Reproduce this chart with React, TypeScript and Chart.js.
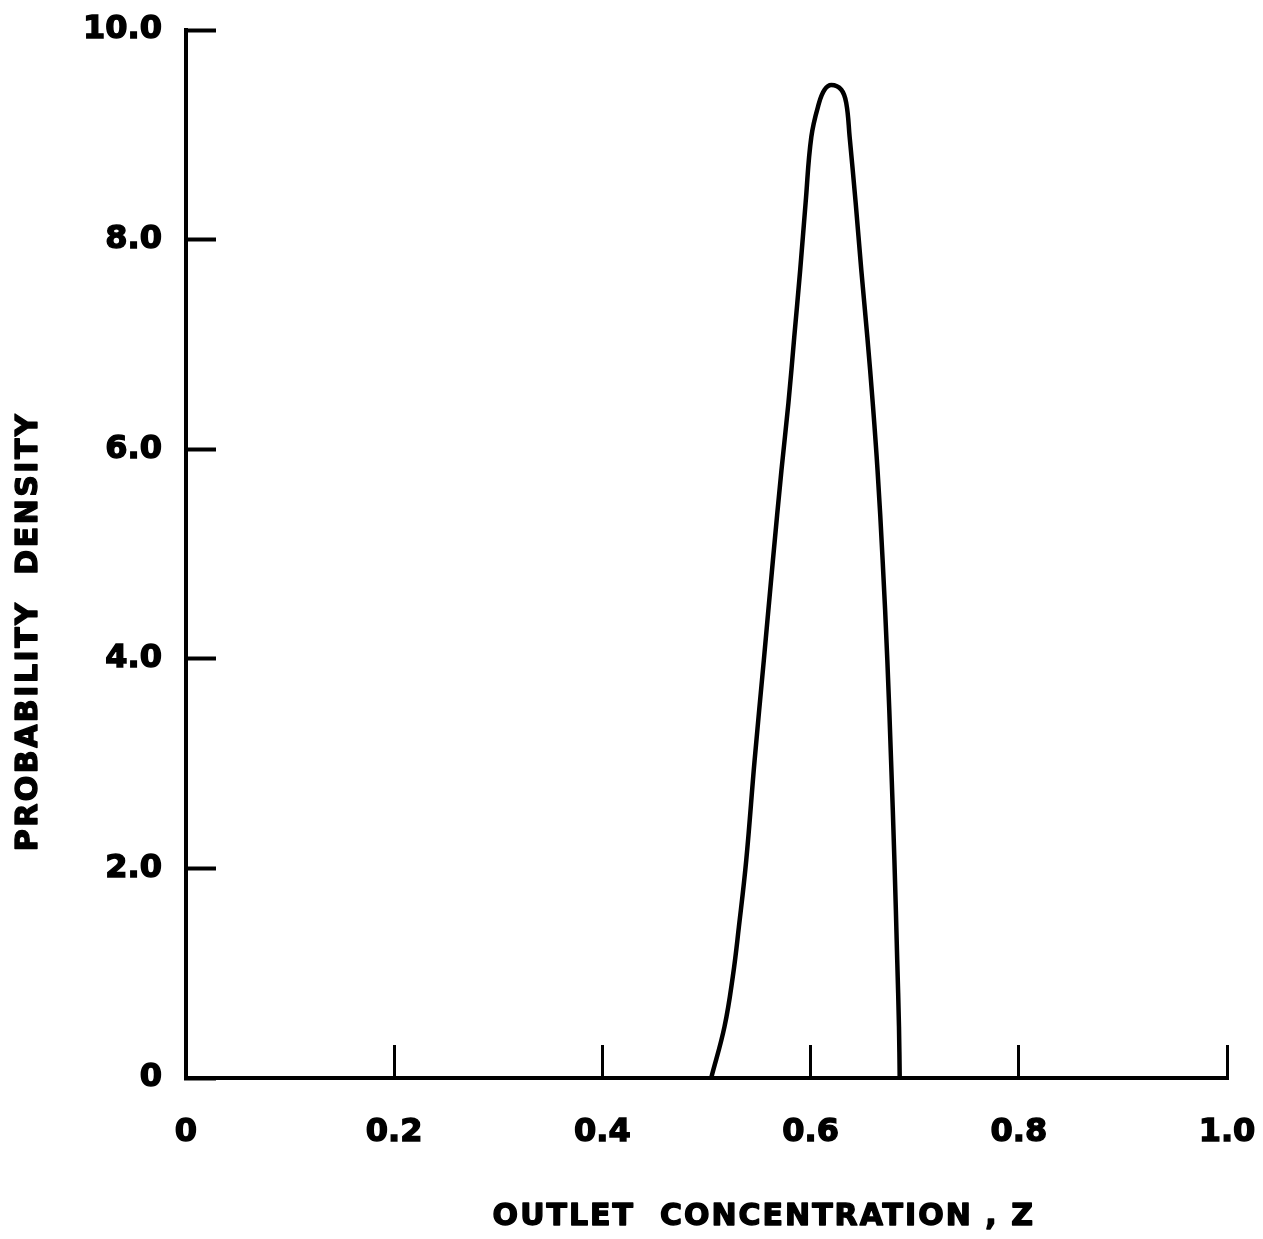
import React, { useEffect, useRef } from "react";
import { Chart, registerables } from "chart.js";

Chart.register(...registerables);

// Outlet concentration z (x) and probability density (y)
const zValues = [
  0.5045, 0.5173, 0.5253, 0.5311, 0.5382, 0.5462, 0.5551, 0.5638, 0.572, 0.5787,
  0.5843, 0.59, 0.5952, 0.6007, 0.608, 0.6134, 0.6199, 0.6295, 0.6343, 0.6375,
  0.6433, 0.6487, 0.6545, 0.6597, 0.6643, 0.6692, 0.6737, 0.6773, 0.6805, 0.6832,
  0.6849, 0.6856,
];
const densityValues = [
  0, 0.49, 0.97, 1.44, 2.08, 3.03, 3.99, 4.94, 5.8, 6.44,
  7.07, 7.71, 8.35, 8.98, 9.3, 9.43, 9.475, 9.43, 9.3, 8.98,
  8.35, 7.71, 7.07, 6.44, 5.8, 4.94, 3.99, 3.03, 2.08, 1.13,
  0.49, 0,
];

const xTickLabels = ["0", "0.2", "0.4", "0.6", "0.8", "1.0"];
const yTickLabels = ["0", "2.0", "4.0", "6.0", "8.0", "10.0"];
const xTitle = "OUTLET  CONCENTRATION , Z";
const yTitle = "PROBABILITY  DENSITY";

const FONT = "'DejaVu Sans', sans-serif";

const titlesPlugin = {
  id: "axisTitles",
  afterDraw(chart: any) {
    const ctx = chart.ctx;
    const xs = chart.scales.x;
    const ys = chart.scales.y;
    ctx.save();
    ctx.fillStyle = "#000";
    ctx.strokeStyle = "#000";
    ctx.lineWidth = 1.4;
    ctx.lineJoin = "round";
    ctx.font = `bold 30px ${FONT}`;
    ctx.textBaseline = "alphabetic";
    ctx.textAlign = "center";
    // x title, offset to the right of centre as in the original
    (ctx as any).letterSpacing = "2px";
    const xc = xs.getPixelForValue(0.555);
    ctx.fillText(xTitle, xc, xs.bottom - 14);
    ctx.strokeText(xTitle, xc, xs.bottom - 14);
    // y title, rotated
    (ctx as any).letterSpacing = "2.5px";
    const yc = ys.getPixelForValue(4.26);
    ctx.translate(37, yc);
    ctx.rotate(-Math.PI / 2);
    ctx.fillText(yTitle, 0, 0);
    ctx.strokeText(yTitle, 0, 0);
    ctx.restore();
  },
};

const zeroPad = (s: any) => {
  s.paddingTop = 0;
  s.paddingBottom = 0;
  s.paddingLeft = 0;
  s.paddingRight = 0;
};

export default function App() {
  const ref = useRef<HTMLCanvasElement | null>(null);

  useEffect(() => {
    if (!ref.current) return;
    const points = zValues.map((z, i) => ({ x: z, y: densityValues[i] }));
    const chart = new Chart(ref.current, {
      type: "scatter",
      data: {
        datasets: [
          {
            data: points,
            showLine: true,
            borderColor: "#000",
            borderWidth: 4.5,
            borderCapStyle: "round",
            borderJoinStyle: "round",
            pointRadius: 0,
            tension: 0.4,
            fill: false,
          },
        ],
      },
      options: {
        responsive: false,
        animation: false,
        events: [],
        layout: { padding: { left: 0, top: 30, right: 36, bottom: 0 } },
        plugins: {
          legend: { display: false },
          tooltip: { enabled: false },
          title: { display: false },
        },
        scales: {
          x: {
            type: "linear",
            min: 0,
            max: 1,
            afterFit: (s: any) => {
              s.height = 161;
              zeroPad(s);
            },
            border: { display: true, color: "#000", width: 4 },
            grid: {
              drawOnChartArea: false,
              drawTicks: true,
              tickLength: -33,
              tickWidth: 3,
              tickColor: "#000",
            },
            ticks: {
              stepSize: 0.2,
              color: "#000",
              padding: 68,
              maxRotation: 0,
              textStrokeColor: "#000",
              textStrokeWidth: 1.4,
              font: { family: FONT, weight: "bold", size: 32 },
              callback: (_v: any, i: number) => xTickLabels[i],
            },
          },
          y: {
            type: "linear",
            min: 0,
            max: 10,
            afterFit: (s: any) => {
              s.width = 186;
              zeroPad(s);
            },
            border: { display: true, color: "#000", width: 4 },
            grid: {
              drawOnChartArea: false,
              drawTicks: true,
              tickLength: -30,
              tickWidth: 4,
              tickColor: "#000",
            },
            ticks: {
              stepSize: 2,
              color: "#000",
              padding: 54,
              textStrokeColor: "#000",
              textStrokeWidth: 1.4,
              font: { family: FONT, weight: "bold", size: 32 },
              callback: (_v: any, i: number) => yTickLabels[i],
            },
          },
        },
      },
      plugins: [titlesPlugin],
    } as any);
    return () => chart.destroy();
  }, []);

  return (
    <div style={{ position: "fixed", left: 0, top: 0, width: 1263, height: 1239, background: "#fff" }}>
      <canvas ref={ref} width={1263} height={1239} style={{ display: "block" }} />
    </div>
  );
}
